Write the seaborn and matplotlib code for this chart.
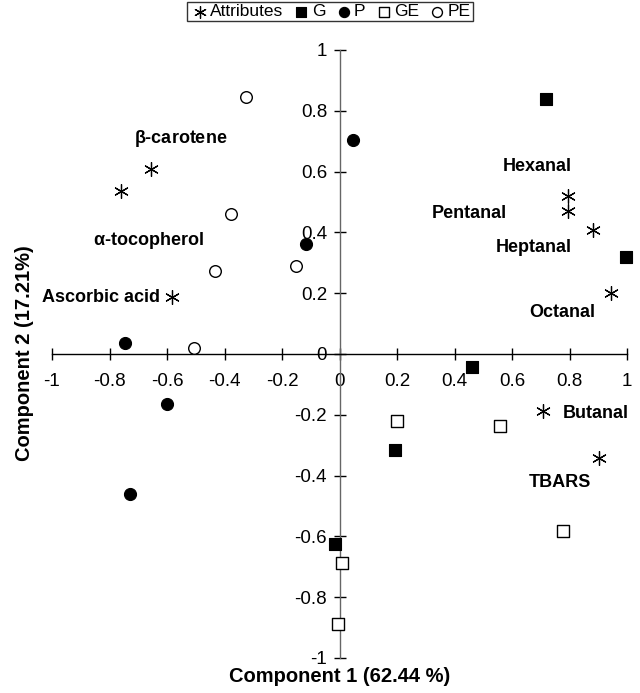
import matplotlib
matplotlib.use("Agg")
import matplotlib.pyplot as plt
import seaborn as sns
import numpy as np

# componente 1 si 2 pentru fiecare grup
attr_x = [-0.655, -0.760, -0.581, 0.794, 0.794, 0.882, 0.945, 0.709, 0.901]
attr_y = [0.609, 0.535, 0.186, 0.521, 0.472, 0.408, 0.200, -0.187, -0.341]

g_x = [0.719, 0.995, 0.460, 0.193, -0.016]
g_y = [0.840, 0.318, -0.044, -0.316, -0.624]

p_x = [0.046, -0.115, -0.746, -0.600, -0.728]
p_y = [0.703, 0.362, 0.037, -0.165, -0.461]

ge_x = [0.201, 0.558, 0.777, 0.008, -0.004]
ge_y = [-0.221, -0.236, -0.583, -0.687, -0.888]

pe_x = [-0.324, -0.377, -0.153, -0.432, -0.505]
pe_y = [0.844, 0.461, 0.290, 0.274, 0.019]

attr_names = [r"$\mathregular{\beta}$-carotene", r"$\mathregular{\alpha}$-tocopherol",
              "Ascorbic acid", "Hexanal", "Pentanal", "Heptanal", "Octanal",
              "Butanal", "TBARS"]
# pozitia etichetelor
name_x = [-0.553, -0.666, -0.624, 0.687, 0.452, 0.675, 0.775, 0.778, 0.766]
name_y = [0.710, 0.373, 0.185, 0.617, 0.461, 0.349, 0.136, -0.197, -0.424]
name_ha = ["center", "center", "right", "center", "center", "center", "center", "left", "center"]

ticks = np.round(np.arange(-1, 1.01, 0.2), 1)
tick_labels = ["-1", "-0.8", "-0.6", "-0.4", "-0.2", "0", "0.2", "0.4", "0.6", "0.8", "1"]

sns.set_style("white")
plt.rcParams["font.family"] = ["Liberation Sans", "DejaVu Sans"]
plt.rcParams["axes.unicode_minus"] = False
plt.rcParams["text.color"] = "black"

fig = plt.figure(figsize=(6.4, 6.93), dpi=100)
ax = fig.add_axes([52 / 640, 1 - 658 / 693, 575 / 640, 608 / 693])

sns.scatterplot(x=attr_x, y=attr_y, marker=(6, 2, 0), s=100, color="black",
                linewidth=0.9, label="Attributes", ax=ax, clip_on=False, zorder=3)
sns.scatterplot(x=g_x, y=g_y, marker="s", s=80, color="black", edgecolor="black",
                linewidth=0.8, label="G", ax=ax, clip_on=False, zorder=3)
sns.scatterplot(x=p_x, y=p_y, marker="o", s=75, color="black", edgecolor="black",
                linewidth=0.8, label="P", ax=ax, clip_on=False, zorder=3)
sns.scatterplot(x=ge_x, y=ge_y, marker="s", s=75, color="white", edgecolor="black",
                linewidth=1.0, label="GE", ax=ax, clip_on=False, zorder=3)
sns.scatterplot(x=pe_x, y=pe_y, marker="o", s=70, color="white", edgecolor="black",
                linewidth=1.0, label="PE", ax=ax, clip_on=False, zorder=3)

for nm, tx, ty, ha in zip(attr_names, name_x, name_y, name_ha):
    ax.text(tx, ty, nm, ha=ha, va="center", fontsize=13, fontweight="bold", color="black")

ax.set_xlim(-1, 1)
ax.set_ylim(-1, 1)
ax.spines["left"].set_position(("data", 0))
ax.spines["bottom"].set_position(("data", 0))
ax.spines["top"].set_visible(False)
ax.spines["right"].set_visible(False)
ax.spines["left"].set_color("#666666")
ax.spines["bottom"].set_color("black")
for s in ["left", "bottom"]:
    ax.spines[s].set_linewidth(1.0)

ax.set_xticks(ticks)
ax.set_xticklabels(tick_labels)
ax.set_yticks(ticks)
ax.set_yticklabels(tick_labels)
ax.tick_params(axis="both", direction="inout", length=8, width=1, labelsize=13.5,
               colors="black", bottom=True, left=True)
ax.tick_params(axis="x", pad=10)
ax.tick_params(axis="y", pad=5)

ax.set_xlabel("")
ax.set_ylabel("")
fig.text(339.5 / 640, 1 - 677 / 693, "Component 1 (62.44 %)", ha="center", va="center",
         fontsize=14.5, fontweight="bold")
fig.text(25 / 640, 1 - 353 / 693, "Component 2 (17.21%)", ha="center", va="center",
         rotation=90, fontsize=14.5, fontweight="bold")

leg = ax.legend(loc="upper center", bbox_to_anchor=(330 / 640, 1 - 2 / 693),
                bbox_transform=fig.transFigure, ncol=5, frameon=True, fancybox=False,
                fontsize=12.5, handletextpad=0.0, columnspacing=0.45, borderpad=0.12,
                handlelength=1.2, borderaxespad=0, markerscale=0.85)
leg.get_frame().set_edgecolor("black")
leg.get_frame().set_linewidth(1.0)
for t in leg.get_texts():
    t.set_color("black")

fig.savefig("out.png", dpi=100)
